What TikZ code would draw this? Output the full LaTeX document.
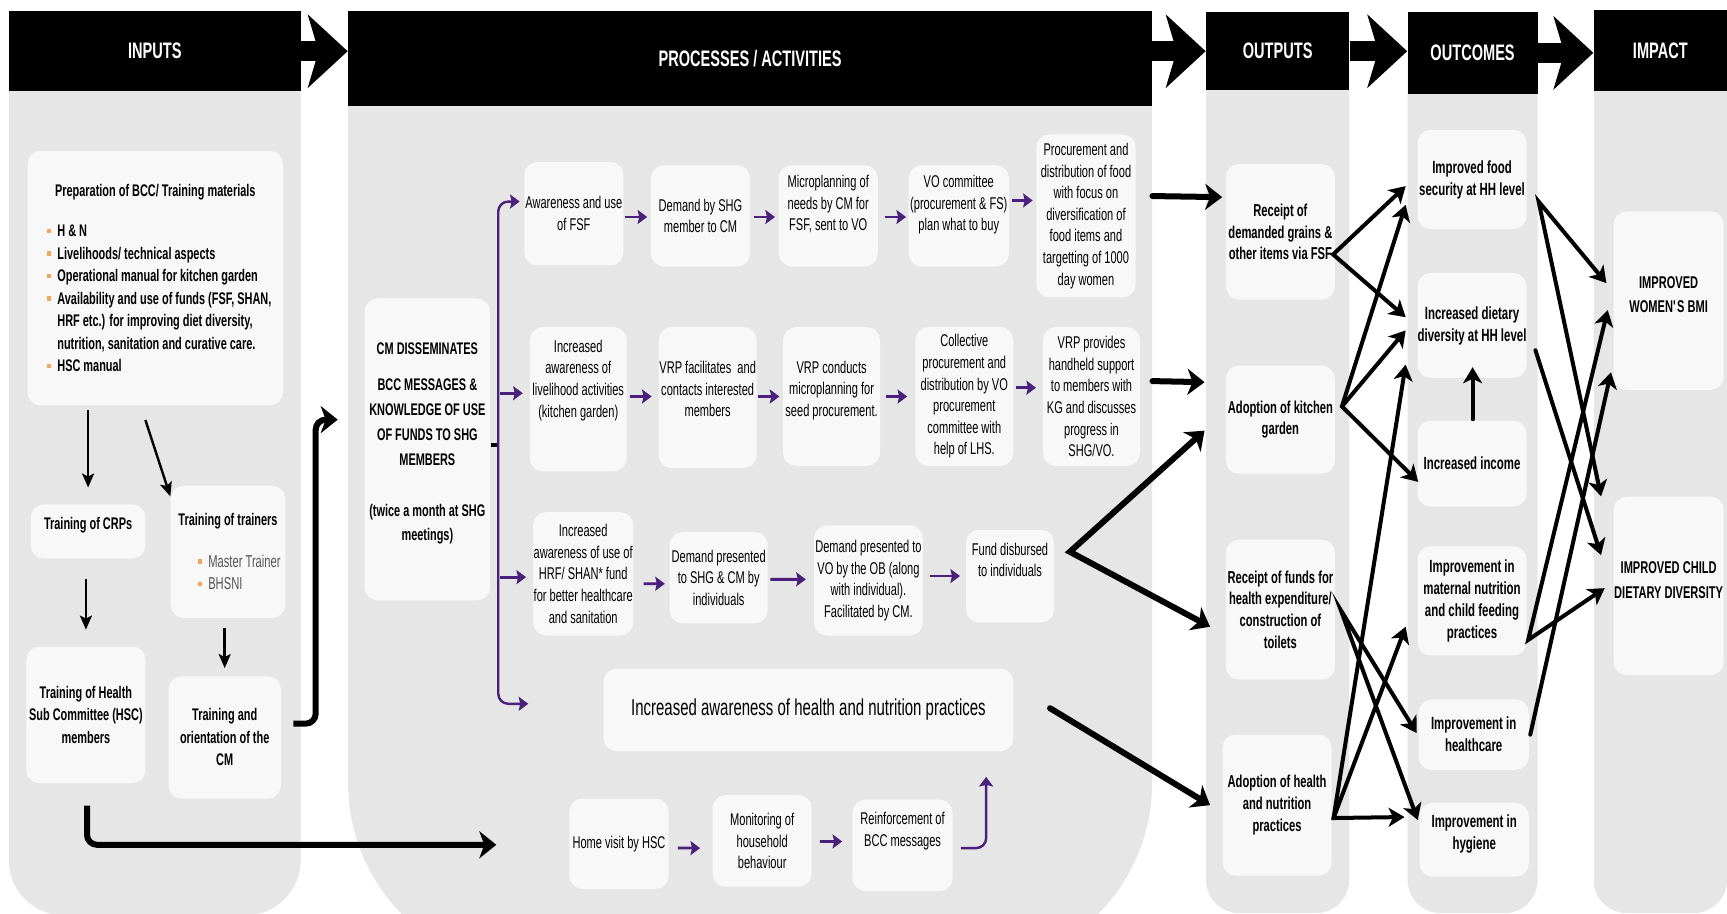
\documentclass[tikz,border=0pt]{standalone}
\usepackage{fontspec}
\setmainfont{Liberation Sans}[FakeStretch=0.65]
\usetikzlibrary{arrows.meta,calc}
\definecolor{panelc}{HTML}{E6E6E6}
\definecolor{boxc}{HTML}{F8F8F8}
\definecolor{purp}{HTML}{4B1F7C}
\definecolor{bulc}{HTML}{F5A45E}
\definecolor{greyt}{HTML}{555555}
\newcommand\mkbox[7]{\node[#1,minimum width={(#5-#3)*0.55pt},minimum height={(#6-#4)*0.55pt}] (#2) at ({(#3+#5)/2},{(#4+#6)/2}) {#7};}
\newcommand\liftx[2]{\raisebox{#1}[\height][\depth]{\begin{tabular}{@{}c@{}}#2\end{tabular}}}
\newcommand\bulmk{\makebox[5pt][l]{\textcolor{bulc}{\rule[1.7pt]{1.7pt}{2.2pt}}}}
\newcommand\plin[1]{\makebox[107.8pt][l]{#1}}
\newcommand\tlin[1]{\makebox[29.7pt][l]{#1}}
\newcommand\grtxt[1]{{\mdseries\fontsize{8.6}{11.2}\selectfont\color{greyt}#1}}
\begin{document}
\begin{tikzpicture}[x=0.55pt,y=-0.55pt,
  box/.style={fill=boxc, rounded corners=6.5pt, inner sep=0pt, align=center},
  hdr/.style={fill=black, text=white, inner sep=0pt, font=\bfseries\fontsize{11.2}{13}\selectfont},
  ptxt/.style={font=\fontsize{8.5}{10.8}\selectfont},
  btxt/.style={font=\bfseries\fontsize{8.4}{11.2}\selectfont},
  cmtxt/.style={font=\bfseries\fontsize{8.4}{12.4}\selectfont},
  bigtxt/.style={font=\fontsize{11.5}{13}\selectfont},
  otxt/.style={font=\bfseries\fontsize{8.6}{10.8}\selectfont},
  ctxt/.style={font=\bfseries\fontsize{8.8}{11}\selectfont},
  itxt/.style={font=\bfseries\fontsize{8.5}{12.3}\selectfont},
  harr/.style={line width=9.9pt, -{Stealth[length=19.8pt,width=36.3pt,inset=5.3pt]}},
  tarr/.style={line width=1.2pt, -{Stealth[length=7pt,width=6pt,inset=1.5pt]}},
  parr/.style={purp, line width=1.4pt, -{Stealth[length=4.8pt,width=7pt,inset=0.8pt]}},
  karr/.style={line width=3pt, rounded corners=5pt, -{Stealth[length=8.5pt,width=13.5pt,inset=2.5pt]}},
  marr/.style={line width=3pt, line cap=round, -{Stealth[length=8.5pt,width=13pt,inset=2.5pt]}},
  mdbl/.style={line width=3pt, line join=miter, {Stealth[length=8.5pt,width=13pt,inset=2.5pt]}-{Stealth[length=8.5pt,width=13pt,inset=2.5pt]}},
  carr/.style={line width=2pt, line cap=round, -{Stealth[length=8pt,width=9.5pt,inset=2.2pt]}},
  cdbl/.style={line width=2pt, line join=miter, {Stealth[length=8pt,width=9.5pt,inset=2.2pt]}-{Stealth[length=8pt,width=9.5pt,inset=2.2pt]}}]
\useasboundingbox (0,0) rectangle (1568,829);
\fill[white] (0,0) rectangle (1568,829);
% panels
\begin{scope}
\clip (0,0) rectangle (1568,829);
\fill[panelc, rounded corners=27.5pt] (8,15) rectangle (273,831);
\fill[panelc] (316,15) rectangle (1046,500);
\fill[panelc, rounded corners=93pt] (316,15) rectangle (1046,880);
\fill[panelc, rounded corners=16.5pt] (1095,15) rectangle (1225,829);
\fill[panelc, rounded corners=16.5pt] (1278,15) rectangle (1396,829);
\fill[panelc, rounded corners=16.5pt] (1447,15) rectangle (1568,829);
\end{scope}
% headers
\mkbox{hdr}{hin}{8}{10}{273}{83}{INPUTS}
\mkbox{hdr}{hproc}{316}{10}{1046}{96}{PROCESSES / ACTIVITIES}
\mkbox{hdr}{hout}{1095}{11}{1225}{82}{OUTPUTS}
\mkbox{hdr}{houtc}{1278}{11}{1396}{85}{OUTCOMES}
\mkbox{hdr}{himp}{1447}{9}{1568}{83}{IMPACT}
\draw[harr] (hin.east) -- (hin.east -| hproc.west);
\draw[harr] (hout.west -| hproc.east) -- (hout.west);
\draw[harr] (hout.east) -- (hout.east -| houtc.west);
\draw[harr] (houtc.east) -- (houtc.east -| himp.west);
% inputs
\mkbox{box,btxt}{prep}{25}{137}{257}{368}{Preparation of BCC/ Training materials\\[8.8pt]
\plin{\bulmk H \& N}\\
\plin{\bulmk Livelihoods/ technical aspects}\\
\plin{\bulmk Operational manual for kitchen garden}\\
\plin{\bulmk Availability and use of funds (FSF, SHAN,}\\
\plin{\hspace*{5pt}HRF etc.) for improving diet diversity,}\\
\plin{\hspace*{5pt}nutrition, sanitation and curative care.}\\
\plin{\bulmk HSC manual}}
\mkbox{box,btxt}{crp}{28}{458}{132}{507}{\liftx{3.3pt}{Training of CRPs}}
\mkbox{box,btxt}{tot}{155}{441}{259}{561}{Training of trainers\\[9.4pt]
\tlin{\bulmk\grtxt{Master Trainer}}\\
\tlin{\bulmk\grtxt{BHSNI}}}
\mkbox{box,btxt}{hsc}{24}{587}{132}{711}{Training of Health\\Sub Committee (HSC)\\members}
\mkbox{box,btxt}{tcm}{153}{614}{255}{725}{Training and\\orientation of the\\CM}
% processes
\mkbox{box,cmtxt}{cm}{331}{271}{445}{545}{\liftx{3.3pt}{CM DISSEMINATES\\[5.8pt]BCC MESSAGES \&\\KNOWLEDGE OF USE\\OF FUNDS TO SHG\\MEMBERS\\[12.9pt](twice a month at SHG\\meetings)}}
\mkbox{box,ptxt}{f1}{476}{147}{566}{241}{Awareness and use\\of FSF}
\mkbox{box,ptxt}{f2}{591}{150}{681}{242}{Demand by SHG\\member to CM}
\mkbox{box,ptxt}{f3}{707}{150}{797}{242}{\liftx{5.5pt}{Microplanning of\\needs by CM for\\FSF, sent to VO}}
\mkbox{box,ptxt}{f4}{825}{150}{916}{242}{\liftx{5.5pt}{VO committee\\(procurement \& FS)\\plan what to buy}}
\mkbox{box,ptxt}{f5}{941}{122}{1031}{270}{Procurement and\\distribution of food\\with focus on\\diversification of\\food items and\\targetting of 1000\\day women}
\mkbox{box,ptxt}{k1}{481}{297}{569}{428}{\liftx{9.4pt}{Increased\\awareness of\\livelihood activities\\(kitchen garden)}}
\mkbox{box,ptxt}{k2}{598}{297}{687}{425}{\liftx{3.3pt}{VRP facilitates\ \ and\\contacts interested\\members}}
\mkbox{box,ptxt}{k3}{711}{297}{799}{423}{\liftx{3pt}{VRP conducts\\microplanning for\\seed procurement.}}
\mkbox{box,ptxt}{k4}{831}{297}{920}{423}{Collective\\procurement and\\distribution by VO\\procurement\\committee with\\help of LHS.}
\mkbox{box,ptxt}{k5}{947}{297}{1035}{423}{VRP provides\\handheld support\\to members with\\KG and discusses\\progress in\\SHG/VO.}
\mkbox{box,ptxt}{h1}{484}{465}{575}{577}{Increased\\awareness of use of\\HRF/ SHAN* fund\\for better healthcare\\and sanitation}
\mkbox{box,ptxt}{h2}{608}{483}{697}{566}{Demand presented\\to SHG \& CM by\\individuals}
\mkbox{box,ptxt}{h3}{739}{477}{838}{577}{Demand presented to\\VO by the OB (along\\with individual).\\Facilitated by CM.}
\mkbox{box,ptxt}{h4}{877}{481}{957}{565}{\liftx{7.2pt}{Fund disbursed\\to individuals}}
\mkbox{box,bigtxt}{hn}{548}{607}{920}{682}{Increased awareness of health and nutrition practices}
\mkbox{box,ptxt}{v1}{517}{725}{607}{807}{Home visit by HSC}
\mkbox{box,ptxt}{v2}{647}{722}{737}{805}{Monitoring of\\household\\behaviour}
\mkbox{box,ptxt}{v3}{774}{726}{865}{809}{\liftx{7.2pt}{Reinforcement of\\BCC messages}}
% outputs
\mkbox{box,otxt}{o1}{1113}{149}{1212}{272}{Receipt of\\demanded grains \&\\other items via FSF}
\mkbox{box,otxt}{o2}{1113}{332}{1212}{430}{Adoption of kitchen\\garden}
\mkbox{box,otxt}{o3}{1113}{490}{1212}{617}{Receipt of funds for\\health expenditure/\\construction of\\toilets}
\mkbox{box,otxt}{o4}{1110}{667}{1209}{795}{Adoption of health\\and nutrition\\practices}
% outcomes
\mkbox{box,ctxt}{c1}{1287}{118}{1386}{208}{Improved food\\security at HH level}
\mkbox{box,ctxt}{c2}{1287}{248}{1386}{343}{Increased dietary\\diversity at HH level}
\mkbox{box,ctxt}{c3}{1287}{382}{1386}{460}{Increased income}
\mkbox{box,ctxt}{c4}{1287}{496}{1386}{595}{Improvement in\\maternal nutrition\\and child feeding\\practices}
\mkbox{box,ctxt}{c5}{1288}{635}{1388}{699}{Improvement in\\healthcare}
\mkbox{box,ctxt}{c6}{1289}{729}{1388}{796}{\liftx{2.7pt}{Improvement in\\hygiene}}
% impact
\mkbox{box,itxt}{i1}{1465}{192}{1565}{354}{\liftx{2.5pt}{IMPROVED\\WOMEN\textquotesingle S BMI}}
\mkbox{box,itxt}{i2}{1465}{451}{1565}{613}{\liftx{2.5pt}{IMPROVED CHILD\\DIETARY DIVERSITY}}
% ---- connectors: inputs
\draw[tarr, shorten <=2.2pt, shorten >=8.25pt] (crp.north |- prep.south) -- (crp.north);
\draw[tarr] ($(prep.south)+(-9,13)$) -- ($(tot.north west)+(0,10)$);
\draw[tarr, shorten <=9.9pt, shorten >=8.25pt] (hsc.north |- crp.south) -- (hsc.north);
\draw[tarr, shorten <=5pt, shorten >=3.9pt] (tcm.north |- tot.south) -- (tcm.north);
\draw[karr] ($(tcm.east)+(11,-12.5)$) -| ($(cm.west)+(-44,-27)$) -- ($(cm.west)+(-24,-27)$);
\draw[karr] ($(hsc.south)+(1,20)$) |- ($(v1.west)+(-66,1)$);
% ---- purple branches
\coordinate (br) at ($(cm.east)+(7,-4)$);
\coordinate (b4) at ($(hn.west)+(-68,-5.5)$);
\draw[line width=1.6pt] (cm.east |- br) -- (br);
\draw[parr, line width=1.2pt, rounded corners=5pt, shorten >=1pt] (br) |- ($(f1.west)+(-2,-11)$);
\draw[parr, line width=1.2pt, rounded corners=5pt] (br) |- (b4);
\draw[parr] ($(k1.west)+(-27,-5.5)$) -- ($(k1.west)+(-6,-5.5)$);
\draw[parr] ($(h1.west)+(-30,3)$) -- ($(h1.west)+(-6,3)$);
% row arrows
\draw[parr] ($(f1.east)+(1,3)$) -- ($(f2.west)+(-3,1)$);
\draw[parr] ($(f2.east)+(3,1)$) -- ($(f3.west)+(-3,1)$);
\draw[parr] ($(f3.east)+(6,1)$) -- ($(f4.west)+(-2,1)$);
\draw[parr] ($(f4.east)+(2,-14)$) -- ($(f5.west)+(-3,-14)$);
\draw[parr] ($(k1.east)+(3,-2.5)$) -- ($(k2.west)+(-6,-1)$);
\draw[parr] ($(k2.east)+(1,-1)$) -- ($(k3.west)+(-3,0)$);
\draw[parr] ($(k3.east)+(5,0)$) -- ($(k4.west)+(-7,0)$);
\draw[parr] ($(k4.east)+(2,-8)$) -- ($(k5.west)+(-6,-8)$);
\draw[parr] ($(h1.east)+(9,9)$) -- ($(h2.west)+(-4,5.5)$);
\draw[parr] ($(h2.east)+(2,1.5)$) -- ($(h3.west)+(-7,-1)$);
\draw[parr] ($(h3.east)+(6,-4)$) -- ($(h4.west)+(-5,0)$);
\draw[parr] ($(v1.east)+(8,4)$) -- ($(v2.west)+(-11,6.5)$);
\draw[parr] ($(v2.east)+(7,0.5)$) -- ($(v3.west)+(-9,-3.5)$);
\draw[parr, line width=1.2pt, rounded corners=5pt] ($(v3.east)+(7,2.5)$) -| ($(hn.south east)+(-25,23)$);
% ---- processes -> outputs
\draw[marr] ($(f5.east)+(15,-18)$) -- ($(o1.west)+(-3,-31.5)$);
\draw[marr] ($(k5.east)+(11,-14)$) -- ($(o2.west)+(-19,-34)$);
\coordinate (fv) at ($(h4.east)+(14,-22)$);
\draw[mdbl] ($(o2.west)+(-19,10)$) -- (fv) -- ($(o3.west)+(-14,15.5)$);
\draw[marr] ($(hn.east)+(33,-1.5)$) -- ($(o4.west)+(-11,0)$);
% ---- outputs -> outcomes
\coordinate (V1) at ($(o1.east)+(-2,20.5)$);
\coordinate (V2) at ($(o2.east)+(6,-12)$);
\coordinate (V3) at ($(o3.east)+(5,0.5)$);
\coordinate (V4) at ($(o4.east)+(1.4,11.7)$);
\draw[cdbl] ($(c1.west)+(-10.4,6)$) -- (V1) -- ($(c2.west)+(-10.4,-7.5)$);
\draw[cdbl] ($(c1.west)+(-10.4,23)$) -- (V2) -- ($(c3.west)+(1,16.5)$);
\draw[carr] (V2) -- ($(c2.west)+(-10.4,4.5)$);
\draw[cdbl] ($(c5.west)+(-1.4,-1.4)$) -- (V3) -- ($(c6.west)+(-1.4,-18)$);
\draw[cdbl] ($(c2.west)+(-10.4,35.5)$) -- (V4) -- ($(c6.west)+(-13.4,-20.7)$);
\draw[carr] (V4) -- ($(c4.west)+(-10.4,23.5)$);
\draw[carr] ($(c3.north)+(0.5,-1)$) -- ($(c2.south)+(0.5,-10)$);
% ---- outcomes -> impact
\coordinate (W1) at ($(c1.east)+(10.6,20)$);
\coordinate (M1) at ($(c4.east)+(1.1,35.5)$);
\draw[cdbl] ($(i1.west)+(-6.2,-16)$) -- (W1) -- ($(i2.north west)+(-11,0)$);
\draw[carr] ($(c2.east)+(7.7,22.5)$) -- ($(i2.west)+(-11,-28)$);
\draw[cdbl] ($(i1.west)+(-5,8.5)$) -- (M1) -- ($(i2.west)+(-7.7,2)$);
\draw[carr] ($(c5.east)+(1,0)$) -- ($(i1.west)+(-2,65)$);
\end{tikzpicture}
\end{document}
